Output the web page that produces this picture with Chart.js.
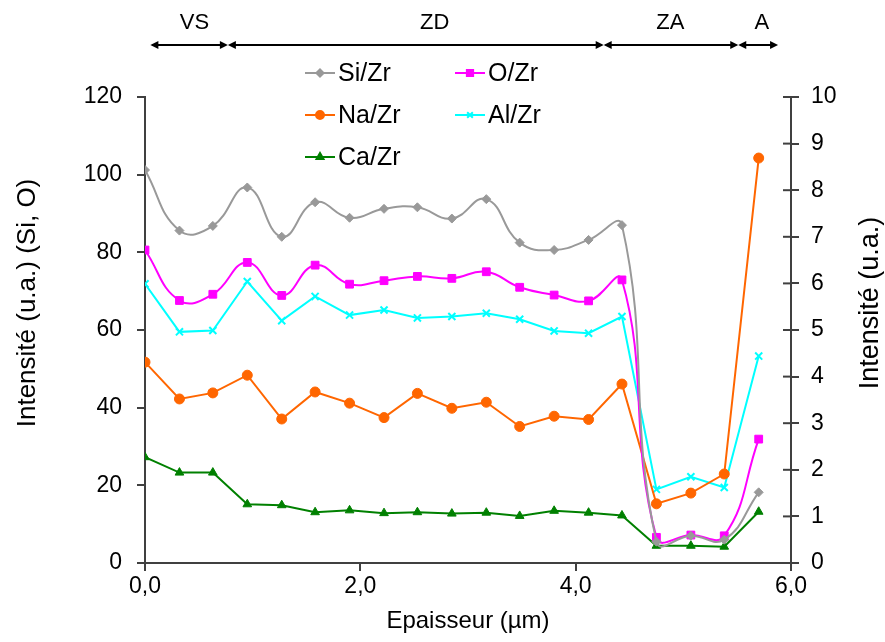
<!DOCTYPE html>
<html lang="fr">
<head>
    <meta charset="UTF-8">
    <script src="https://cdn.jsdelivr.net/npm/chart.js"></script>
    <title>Profil Si/Zr</title>
    <style>
        html, body {
            margin: 0;
            padding: 0;
            background: #fff;
        }
        #wrap {
            width: 885px;
            height: 642px;
        }
    </style>
</head>
<body>
    <div id="wrap">
        <canvas id="myChart" width="885" height="642"></canvas>
    </div>

    <script>
        // epaisseur (µm)
        const depth = [0.00, 0.32, 0.63, 0.95, 1.27, 1.58, 1.90, 2.22, 2.53, 2.85,
                       3.17, 3.48, 3.80, 4.12, 4.43, 4.75, 5.07, 5.38, 5.70]

        // left axis (Si, O)
        const siZr = [101.2, 85.6, 86.8, 96.7, 84.0, 92.9, 88.9, 91.2, 91.6, 88.7,
                      93.7, 82.5, 80.6, 83.2, 87.0, 5.5, 7.0, 6.0, 18.2]
        const oZr = [80.6, 67.6, 69.2, 77.4, 68.9, 76.7, 71.8, 72.7, 73.8, 73.3,
                     75.0, 71.0, 69.0, 67.5, 72.9, 6.6, 7.2, 7.0, 31.9]

        // right axis
        const naZr = [4.31, 3.52, 3.65, 4.03, 3.09, 3.67, 3.43, 3.12, 3.64, 3.32,
                      3.45, 2.93, 3.15, 3.08, 3.84, 1.27, 1.50, 1.91, 8.69]
        const alZr = [5.99, 4.96, 4.99, 6.04, 5.20, 5.72, 5.32, 5.43, 5.26, 5.29,
                      5.36, 5.23, 4.98, 4.93, 5.29, 1.58, 1.85, 1.62, 4.44]
        const caZr = [2.27, 1.94, 1.94, 1.26, 1.24, 1.09, 1.13, 1.07, 1.09, 1.06,
                      1.08, 1.01, 1.12, 1.08, 1.02, 0.37, 0.37, 0.35, 1.10]

        // zones on top
        const zoneEdges = [0.05, 0.77, 4.26, 5.51, 5.88]
        const zoneNames = ['VS', 'ZD', 'ZA', 'A']
        const zoneLabelAt = [0.46, 2.69, 4.88, 5.73]

        const FONT = "'Liberation Sans', Arial, sans-serif"
        const AXIS = '#404040'

        function pts(ys) {
            return depth.map((x, i) => ({ x: x, y: ys[i] }))
        }

        function fmtX(v) {
            return v.toFixed(1).replace('.', ',')
        }

        function vText(ctx, text, x, y, size) {
            ctx.save()
            ctx.fillStyle = '#000'
            ctx.translate(x, y)
            ctx.rotate(-Math.PI / 2)
            ctx.font = size + 'px ' + FONT
            ctx.textAlign = 'center'
            ctx.textBaseline = 'middle'
            ctx.fillText(text, 0, 0)
            ctx.restore()
        }

        // zones VS / ZD / ZA / A with double arrows
        const zonePlugin = {
            id: 'zones',
            afterDraw(chart) {
                const ctx = chart.ctx
                const xs = chart.scales.x
                const y = 45
                ctx.save()
                ctx.strokeStyle = '#000'
                ctx.fillStyle = '#000'
                ctx.lineWidth = 2
                for (let i = 0; i < zoneNames.length; i++) {
                    const a = xs.getPixelForValue(zoneEdges[i])
                    const b = xs.getPixelForValue(zoneEdges[i + 1])
                    ctx.beginPath()
                    ctx.moveTo(a + 2, y)
                    ctx.lineTo(b - 2, y)
                    ctx.stroke()
                    // heads
                    ctx.beginPath()
                    ctx.moveTo(a, y)
                    ctx.lineTo(a + 8, y - 4)
                    ctx.lineTo(a + 8, y + 4)
                    ctx.closePath()
                    ctx.fill()
                    ctx.beginPath()
                    ctx.moveTo(b, y)
                    ctx.lineTo(b - 8, y - 4)
                    ctx.lineTo(b - 8, y + 4)
                    ctx.closePath()
                    ctx.fill()

                    ctx.font = '22px ' + FONT
                    ctx.textAlign = 'center'
                    ctx.textBaseline = 'middle'
                    ctx.fillText(zoneNames[i], xs.getPixelForValue(zoneLabelAt[i]), 23)
                }
                ctx.restore()
            }
        }

        // legend inside plot, 2 columns + axis titles
        const legendPlugin = {
            id: 'innerLegend',
            afterDraw(chart) {
                const ctx = chart.ctx
                const cols = [305, 455]
                const rows = [73, 115, 157]
                ctx.save()
                chart.data.datasets.forEach((ds, i) => {
                    const x = cols[i % 2]
                    const y = rows[Math.floor(i / 2)]
                    ctx.strokeStyle = ds.borderColor
                    ctx.lineWidth = 2
                    ctx.beginPath()
                    ctx.moveTo(x, y)
                    ctx.lineTo(x + 30, y)
                    ctx.stroke()
                    ctx.fillStyle = ds.backgroundColor
                    Chart.helpers.drawPoint(ctx, {
                        pointStyle: ds.pointStyle,
                        radius: ds.pointRadius * 0.8,
                        rotation: 0,
                        borderWidth: ds.pointBorderWidth || 1
                    }, x + 15, y)
                    ctx.fillStyle = '#000'
                    ctx.font = '25px ' + FONT
                    ctx.textAlign = 'left'
                    ctx.textBaseline = 'middle'
                    ctx.fillText(ds.label, x + 33, y + 1)
                })

                // inner half of the right axis ticks
                const ys = chart.scales.y2
                ctx.strokeStyle = AXIS
                ctx.lineWidth = 2
                ys.ticks.forEach((t) => {
                    const py = ys.getPixelForValue(t.value)
                    ctx.beginPath()
                    ctx.moveTo(ys.left - 8, py)
                    ctx.lineTo(ys.left, py)
                    ctx.stroke()
                })
                ctx.restore()

                // axis titles, both read bottom to top
                vText(ctx, 'Intensité (u.a.) (Si, O)', 28, 303, 26)
                vText(ctx, 'Intensité (u.a.)', 871, 303, 27)
            }
        }

        function line(label, data, color, style, radius, axis, tension) {
            return {
                label: label,
                data: pts(data),
                yAxisID: axis,
                borderColor: color,
                backgroundColor: color,
                borderWidth: 2,
                pointStyle: style,
                pointRadius: radius,
                pointBorderWidth: style == 'crossRot' ? 2 : 1,
                tension: tension
            }
        }

        var ctx = document.getElementById('myChart').getContext('2d');
        var chart = new Chart(ctx, {
            type: 'line',
            data: {
                datasets: [
                    line('Si/Zr', siZr, '#999999', 'rectRot', 4.5, 'y', 0.45),
                    line('O/Zr', oZr, '#FF00FF', 'rect', 5.5, 'y', 0.45),
                    line('Na/Zr', naZr, '#FF6600', 'circle', 5, 'y2', 0),
                    line('Al/Zr', alZr, '#00FFFF', 'crossRot', 5, 'y2', 0),
                    line('Ca/Zr', caZr, '#008000', 'triangle', 5, 'y2', 0)
                ]
            },
            options: {
                responsive: false,
                animation: false,
                layout: { padding: { top: 97, left: 0, right: 0, bottom: 0 } },
                plugins: {
                    legend: { display: false },
                    tooltip: { enabled: false }
                },
                scales: {
                    x: {
                        type: 'linear',
                        min: 0,
                        max: 6,
                        afterFit: (s) => { s.height = 79 },
                        ticks: {
                            stepSize: 2,
                            callback: (v) => fmtX(v),
                            color: '#000',
                            padding: 2,
                            maxRotation: 0,
                            font: { family: FONT, size: 23 }
                        },
                        grid: { drawOnChartArea: false, tickLength: 8, color: AXIS, lineWidth: 2 },
                        border: { color: AXIS, width: 2 },
                        title: {
                            display: true,
                            text: 'Epaisseur (µm)',
                            color: '#000',
                            padding: { top: 0, bottom: 6 },
                            font: { family: FONT, size: 24 }
                        }
                    },
                    y: {
                        position: 'left',
                        min: 0,
                        max: 120,
                        afterFit: (s) => { s.width = 145 },
                        ticks: {
                            stepSize: 20,
                            color: '#000',
                            padding: 15,
                            font: { family: FONT, size: 23 }
                        },
                        grid: { drawOnChartArea: false, tickLength: 8, color: AXIS, lineWidth: 2 },
                        border: { color: AXIS, width: 2 }
                    },
                    y2: {
                        position: 'right',
                        min: 0,
                        max: 10,
                        afterFit: (s) => { s.width = 94 },
                        ticks: {
                            stepSize: 1,
                            color: '#000',
                            padding: 12,
                            font: { family: FONT, size: 23 }
                        },
                        grid: { drawOnChartArea: false, tickLength: 8, color: AXIS, lineWidth: 2 },
                        border: { color: AXIS, width: 2 }
                    }
                }
            },
            plugins: [zonePlugin, legendPlugin]
        });
    </script>
</body>
</html>
